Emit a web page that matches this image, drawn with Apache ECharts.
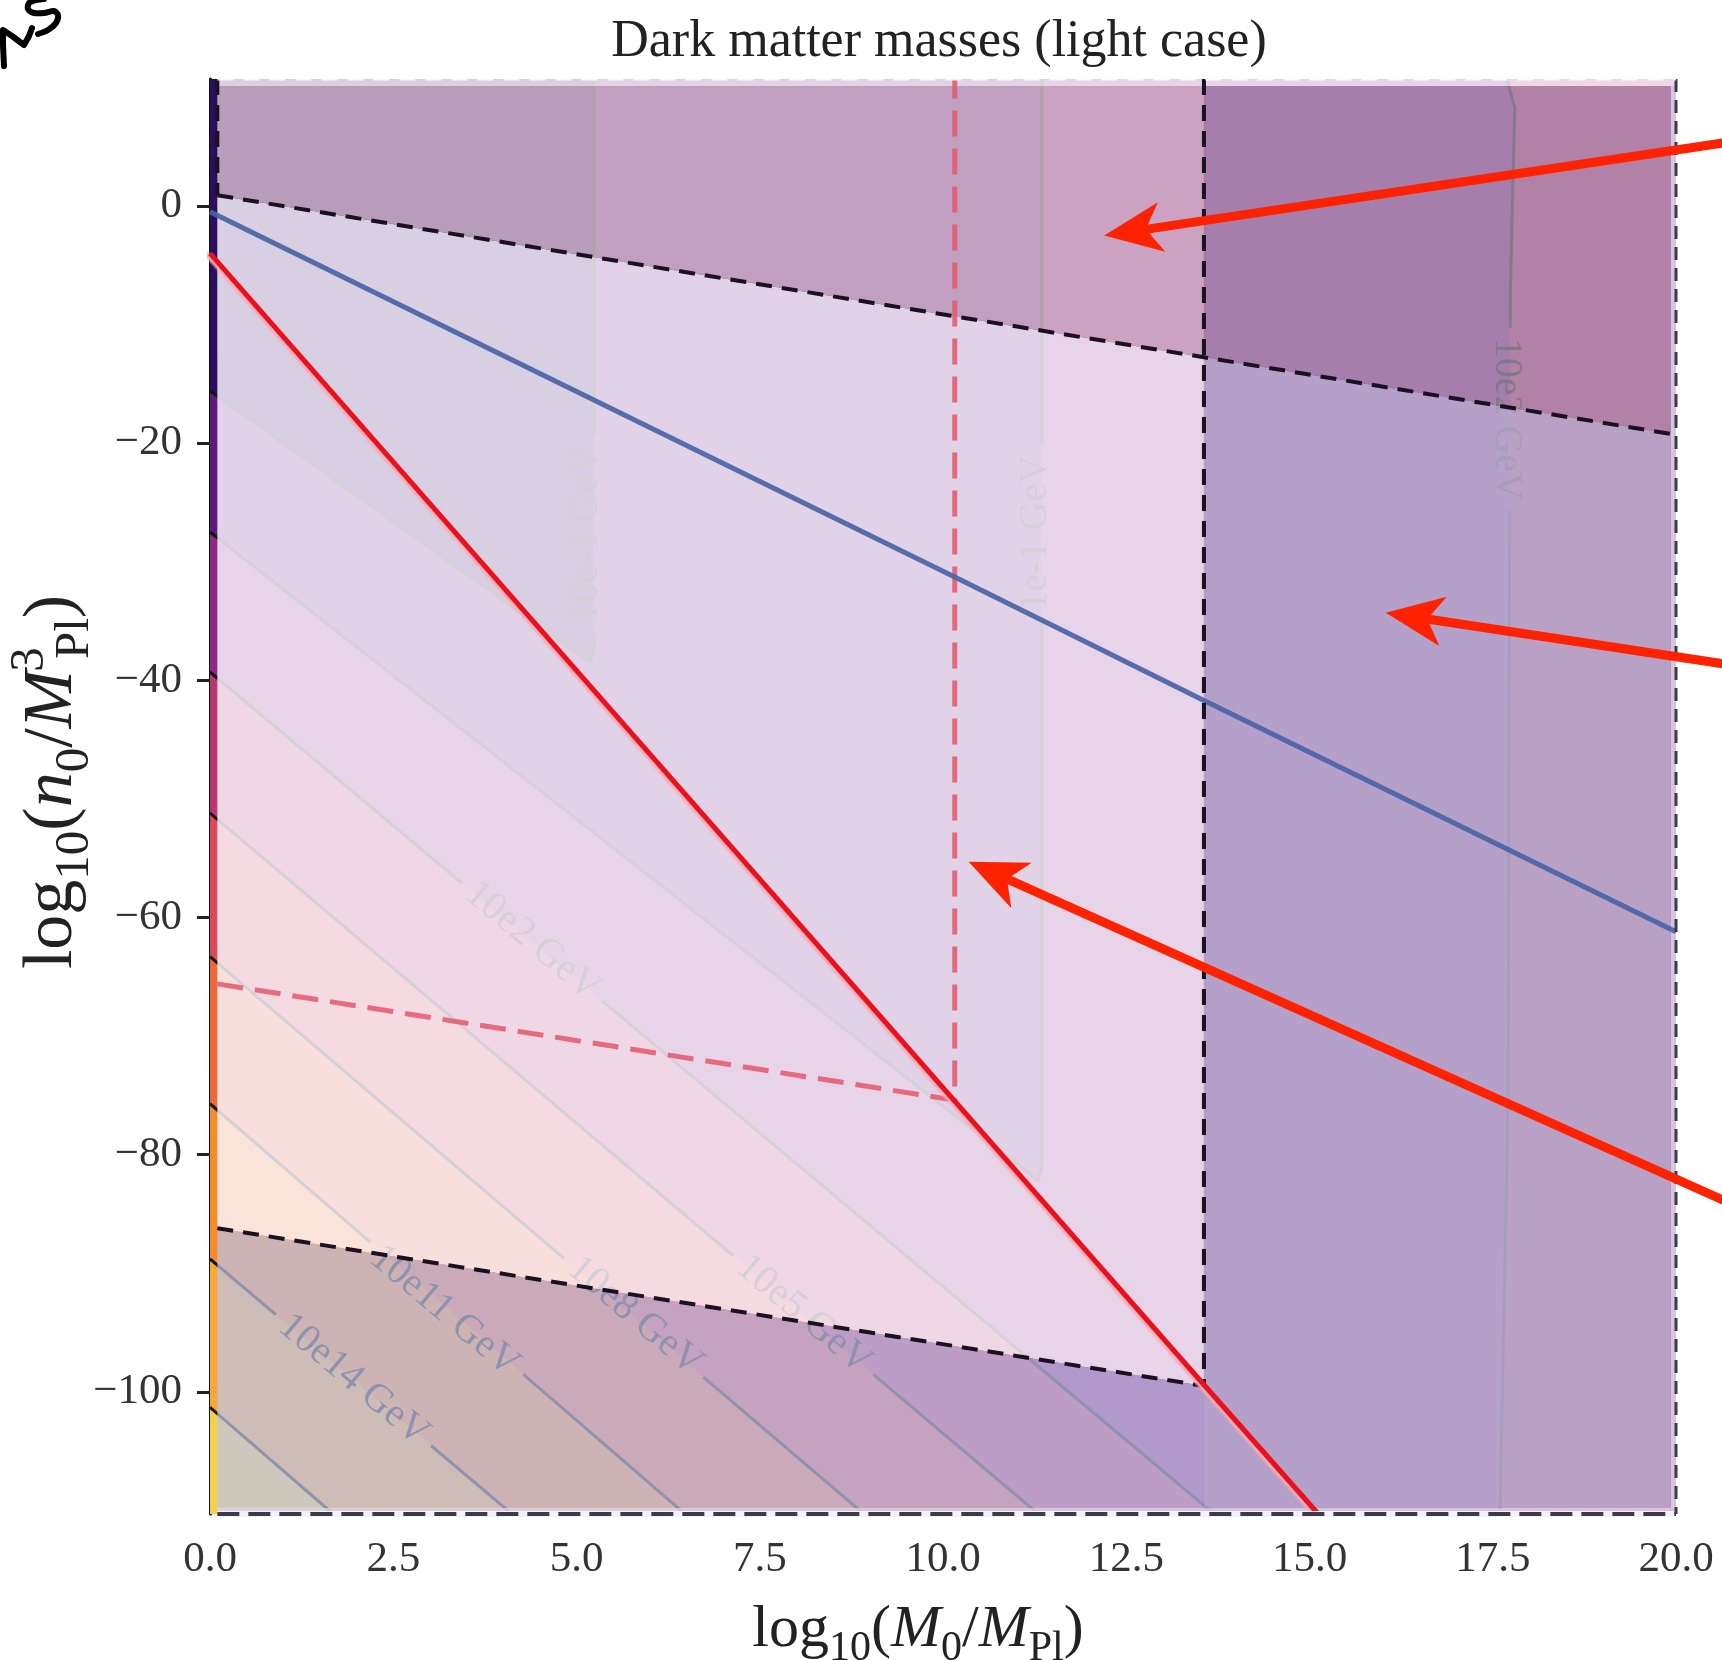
<!DOCTYPE html>
<html>
<head>
<meta charset="utf-8">
<script src="https://cdn.jsdelivr.net/npm/echarts@6/dist/echarts.min.js"></script>
<style>
  html, body { margin: 0; padding: 0; background: #ffffff; }
  #chart { width: 1722px; height: 1660px; }
</style>
</head>
<body>
<div id="chart"></div>
<script>
// ---- axis ranges and ticks ----
const xRange = [0, 20];
const yRange = [-110.3, 10.7];
const xTickValues = [0, 2.5, 5, 7.5, 10, 12.5, 15, 17.5, 20];
const yTickValues = [-100, -80, -60, -40, -20, 0];

// ---- contours of constant dark matter mass, (log10 M0/MPl, log10 n0/MPl^3) ----
const contour1 = [[0, -15.6], [5.18, -38.5], [5.24, -37.5], [5.24, 10.7]];
const contour2 = [[0, -27.5], [11.3, -82.2], [11.35, -81.0], [11.35, 10.7]];
const contour3 = [[0, -39.3], [13.7, -110.3]];
const contour3Right = [[17.6, -110.3], [17.71, -75], [17.74, -7.1], [17.8, 8.3], [17.69, 10.7]];
const contour4 = [[0, -51.2], [11.3, -110.3]];
const contour5 = [[0, -63.3], [8.92, -110.3]];
const contour6 = [[0, -75.7], [6.48, -110.3]];
const contour7 = [[0, -88.8], [4.12, -110.3]];
const contour8 = [[0, -101.3], [1.68, -110.3]];

// filled mass bands, lightest mass (top) to heaviest (bottom left)
const bandColors = ['#2a0f5c', '#5c1b7c', '#8c2981', '#b7376f', '#d84a5c', '#ea6a3c', '#f48a2c', '#f6a936', '#f2d24c'];

// inline contour labels and the contour each one sits on
const contourLabels = ['10e-1 GeV', '1e-1 GeV', '10e2 GeV', '10e2 GeV', '10e5 GeV', '10e8 GeV', '10e11 GeV', '10e14 GeV'];
const contourLabelPos = [[5.14, -27.7], [11.26, -27.6], [17.69, -18], [4.4, -62], [8.1, -93.5], [5.8, -93.6], [3.2, -93.2], [1.96, -99]];
const contourLabelAngle = [90, 90, -90, -40, -40, -40, -40, -40];
const contourLabelLine = [0, 1, 3, 2, 4, 5, 6, 7];

// ---- excluded / allowed regions ----
const upperBound = [[0.1, 0.9], [20, -19.3]];
const lowerBound = [[0.1, -86.2], [13.56, -99.5]];
const massCutX = 13.56;
const stripX = 0.1;
const innerTop = 10.1;
const innerRight = 19.93;
const innerBottom = -109.75;
const fillAllowed = 'rgba(250,245,252,0.84)';
const fillUpperLeft = 'rgba(219,192,210,0.80)';
const fillUpperRight = 'rgba(174,158,187,0.73)';
const fillRight = 'rgba(185,176,210,0.88)';
const fillLower = 'rgba(190,194,230,0.73)';
const fillEdge = 'rgba(214,210,234,0.92)';

// ---- constraint curves ----
const blueCurve = [[0, -0.5], [10.16, -31.3], [13.56, -41.7], [20, -61.2]];
const redCurve = [[0, -4.0], [13.56, -99.4], [15.12, -110.3]];
const redDashed = [[0.1, -65.6], [10.16, -75.4], [10.16, 10.7]];

// ---- annotation arrows (tip, tail) ----
const arrowTips = [[12.2, -2.5], [16.04, -34.3], [10.35, -55.3]];
const arrowTails = [[20.74, 5.4], [20.74, -38.7], [20.74, -84.1]];

const SERIF = '"Liberation Serif", "DejaVu Serif", serif';
const LABEL_FONT = 40;
const yMin = yRange[0], yMax = yRange[1];
const rev = a => a.slice().reverse();
function yAt(line, x) {
  const a = line[0], b = line[1];
  return a[1] + (b[1] - a[1]) * (x - a[0]) / (b[0] - a[0]);
}

const contourLines = [contour1, contour2, contour3, contour3Right, contour4, contour5, contour6, contour7, contour8];

const bandPolys = [
  { pts: [[0, yMax]].concat(rev(contour1)), fill: bandColors[0] },
  { pts: contour1.concat(rev(contour2)), fill: bandColors[1] },
  { pts: contour2.concat(rev(contour3.concat(contour3Right))), fill: bandColors[2] },
  { pts: contour3.concat(rev(contour4)), fill: bandColors[3] },
  { pts: contour3Right.concat([[20, yMax], [20, yMin]]), fill: bandColors[3] },
  { pts: contour4.concat(rev(contour5)), fill: bandColors[4] },
  { pts: contour5.concat(rev(contour6)), fill: bandColors[5] },
  { pts: contour6.concat(rev(contour7)), fill: bandColors[6] },
  { pts: contour7.concat(rev(contour8)), fill: bandColors[7] },
  { pts: contour8.concat([[0, yMin]]), fill: bandColors[8] }
];

const yU0 = yAt(upperBound, stripX), yUc = yAt(upperBound, massCutX), yUr = yAt(upperBound, innerRight);
const yL0 = yAt(lowerBound, stripX), yLc = yAt(lowerBound, massCutX);
const regionPolys = [
  { pts: [[stripX, yU0], [massCutX, yUc], [massCutX, yLc], [stripX, yL0]], fill: fillAllowed },
  { pts: [[stripX, innerTop], [massCutX, innerTop], [massCutX, yUc], [stripX, yU0]], fill: fillUpperLeft },
  { pts: [[massCutX, innerTop], [innerRight, innerTop], [innerRight, yUr], [massCutX, yUc]], fill: fillUpperRight },
  { pts: [[massCutX, yUc], [innerRight, yUr], [innerRight, innerBottom], [massCutX, innerBottom]], fill: fillRight },
  { pts: [[stripX, yL0], [massCutX, yLc], [massCutX, innerBottom], [stripX, innerBottom]], fill: fillLower },
  // thin margins between the shaded regions and the frame
  { pts: [[stripX, yMax], [20, yMax], [20, innerTop], [stripX, innerTop]], fill: fillAllowed },
  { pts: [[innerRight, innerTop], [20, innerTop], [20, yMin], [innerRight, yMin]], fill: fillEdge },
  { pts: [[stripX, innerBottom], [innerRight, innerBottom], [innerRight, yMin], [stripX, yMin]], fill: fillEdge }
];

// text widths, used to open a gap in each contour under its label
const measureCtx = document.createElement('canvas').getContext('2d');
measureCtx.font = LABEL_FONT + 'px ' + SERIF;
const labelHalfWidth = contourLabels.map(t => measureCtx.measureText(t).width / 2 + 10);

// split a pixel polyline, leaving out the arc-length intervals under labels
function cutPolyline(pts, centers, halves) {
  const cum = [0];
  for (let i = 1; i < pts.length; i++) {
    cum.push(cum[i - 1] + Math.hypot(pts[i][0] - pts[i - 1][0], pts[i][1] - pts[i - 1][1]));
  }
  const total = cum[cum.length - 1];
  const gaps = centers.map((c, g) => {
    let best = Infinity, s0 = 0;
    for (let i = 1; i < pts.length; i++) {
      const ax = pts[i - 1][0], ay = pts[i - 1][1], bx = pts[i][0], by = pts[i][1];
      const len2 = (bx - ax) ** 2 + (by - ay) ** 2 || 1;
      let t = ((c[0] - ax) * (bx - ax) + (c[1] - ay) * (by - ay)) / len2;
      t = Math.max(0, Math.min(1, t));
      const d = Math.hypot(ax + t * (bx - ax) - c[0], ay + t * (by - ay) - c[1]);
      if (d < best) { best = d; s0 = cum[i - 1] + t * Math.sqrt(len2); }
    }
    return [s0 - halves[g], s0 + halves[g]];
  }).sort((a, b) => a[0] - b[0]);
  const keep = [];
  let start = 0;
  gaps.forEach(g => { if (g[0] > start) keep.push([start, g[0]]); start = Math.max(start, g[1]); });
  if (start < total) keep.push([start, total]);
  function at(s) {
    for (let i = 1; i < pts.length; i++) {
      if (s <= cum[i] || i === pts.length - 1) {
        const seg = cum[i] - cum[i - 1] || 1;
        const t = Math.max(0, Math.min(1, (s - cum[i - 1]) / seg));
        return [pts[i - 1][0] + t * (pts[i][0] - pts[i - 1][0]), pts[i - 1][1] + t * (pts[i][1] - pts[i - 1][1])];
      }
    }
    return pts[pts.length - 1];
  }
  return keep.map(k => {
    const piece = [at(k[0])];
    for (let i = 1; i < pts.length - 1; i++) if (cum[i] > k[0] && cum[i] < k[1]) piece.push(pts[i]);
    piece.push(at(k[1]));
    return piece;
  });
}

function polygonSeries(list, z, strokeEdges) {
  return {
    type: 'custom', coordinateSystem: 'cartesian2d', z: z, silent: true, clip: true,
    data: list.map((_, i) => [i, 0]),
    renderItem: (params, api) => {
      const item = list[params.dataIndex];
      return {
        type: 'polygon',
        shape: { points: item.pts.map(p => api.coord(p)) },
        style: strokeEdges ? { fill: item.fill, stroke: item.fill, lineWidth: 1 } : { fill: item.fill }
      };
    }
  };
}

function lineSeries(data, z, style, extra) {
  return Object.assign({
    type: 'line', data: data, z: z, silent: true, showSymbol: false, symbol: 'none',
    lineStyle: style
  }, extra || {});
}

const blackDash = { color: '#1a1020', width: 4, type: [16, 10] };

const series = [
  polygonSeries(bandPolys, 1, true),
  {
    // contour lines with gaps for their inline labels
    type: 'custom', coordinateSystem: 'cartesian2d', z: 2, silent: true, clip: true,
    data: contourLines.map((_, i) => [i, 0]),
    renderItem: (params, api) => {
      const li = params.dataIndex;
      const pts = contourLines[li].map(p => api.coord(p));
      const centers = [], halves = [];
      contourLabelLine.forEach((l, k) => {
        if (l === li) { centers.push(api.coord(contourLabelPos[k])); halves.push(labelHalfWidth[k]); }
      });
      const pieces = cutPolyline(pts, centers, halves);
      return {
        type: 'group',
        children: pieces.map(p => ({
          type: 'polyline', shape: { points: p },
          style: { stroke: '#151515', lineWidth: 3, fill: null, lineJoin: 'round' }
        }))
      };
    }
  },
  {
    type: 'custom', coordinateSystem: 'cartesian2d', z: 3, silent: true, clip: true,
    data: contourLabels.map((_, i) => [i, 0]),
    renderItem: (params, api) => {
      const i = params.dataIndex;
      const p = api.coord(contourLabelPos[i]);
      return {
        type: 'text', x: p[0], y: p[1],
        rotation: contourLabelAngle[i] * Math.PI / 180,
        style: {
          text: contourLabels[i], fontFamily: SERIF, fontSize: LABEL_FONT, fill: '#111',
          align: 'center', verticalAlign: 'middle'
        }
      };
    }
  },
  polygonSeries(regionPolys, 4, false),
  lineSeries(redDashed, 5, { color: '#e4576c', width: 5, type: [26, 12], opacity: 0.85 }),
  lineSeries(blueCurve, 5, { color: '#4a63a6', width: 5, opacity: 0.92 }),
  lineSeries(upperBound, 6, blackDash),
  lineSeries(lowerBound, 6, blackDash),
  lineSeries([[massCutX, yMax], [massCutX, lowerBound[1][1]]], 6, blackDash),
  lineSeries([[stripX, yMax], upperBound[0]], 6, blackDash),
  lineSeries(redCurve, 7, { color: '#e8121f', width: 5, shadowColor: 'rgba(255,170,180,0.95)', shadowBlur: 2, shadowOffsetX: -4 }),
  // plot frame: dashed edges of the shaded regions
  lineSeries([[stripX, yMin], [20, yMin]], 8, { color: '#f4f2f8', width: 6 }, { clip: false }),
  lineSeries([[stripX, yMin], [20, yMin]], 9, { color: '#3c3a48', width: 4, type: [22, 9] }, { clip: false }),
  lineSeries([[20, yMax], [20, yMin]], 9, { color: '#3c3a48', width: 3, type: [13, 8] }, { clip: false }),
  lineSeries([[stripX, yMax], [20, yMax]], 9, { color: 'rgba(255,255,255,0.85)', width: 3, type: [16, 10] }, { clip: false })
];

const option = {
  animation: false,
  backgroundColor: '#ffffff',
  grid: { left: 210, right: 46, top: 79, bottom: 146, containLabel: false },
  xAxis: {
    type: 'value', min: xRange[0], max: xRange[1], interval: 2.5,
    axisLine: { show: false },
    axisTick: { show: true, length: 10, lineStyle: { color: '#222', width: 2 } },
    axisLabel: {
      formatter: v => v.toFixed(1), fontFamily: SERIF, fontSize: 43, color: '#333', margin: 24,
      customValues: xTickValues
    },
    splitLine: { show: false }
  },
  yAxis: {
    type: 'value', min: yRange[0], max: yRange[1],
    axisLine: { show: true, onZero: false, lineStyle: { color: '#111', width: 3 } },
    axisTick: { show: true, length: 13, customValues: yTickValues, lineStyle: { color: '#222', width: 3 } },
    axisLabel: {
      customValues: yTickValues,
      formatter: v => (v < 0 ? '\u2212' + Math.abs(v) : String(v)),
      fontFamily: SERIF, fontSize: 43, color: '#333', margin: 28
    },
    splitLine: { show: false }
  },
  series: series
};

const chart = echarts.init(document.getElementById('chart'), null, { renderer: 'canvas' });
chart.setOption(option);

// ---- titles, axis names, hand-drawn annotations ----
function mathRich(size) {
  const sub = Math.round(size * 0.7);
  return {
    a: { fontFamily: SERIF, fontSize: size, lineHeight: size * 1.34, fill: '#222' },
    i: { fontFamily: SERIF, fontSize: size, lineHeight: size * 1.34, fontStyle: 'italic', fill: '#222' },
    s: { fontFamily: SERIF, fontSize: sub, lineHeight: sub, verticalAlign: 'bottom', fill: '#222' },
    p: { fontFamily: SERIF, fontSize: sub, lineHeight: sub, verticalAlign: 'top', width: 1, align: 'left',
         padding: [0, 0, 0, Math.round(size * 0.14)], fill: '#222' }
  };
}

function arrowElements(tipData, tailData) {
  const tip = chart.convertToPixel({ gridIndex: 0 }, tipData);
  const tail = chart.convertToPixel({ gridIndex: 0 }, tailData);
  const dx = tip[0] - tail[0], dy = tip[1] - tail[1];
  const len = Math.hypot(dx, dy);
  const ux = dx / len, uy = dy / len, nx = -uy, ny = ux;
  const headLen = 58, halfW = 25, notch = 16;
  const bx = tip[0] - ux * headLen, by = tip[1] - uy * headLen;
  const kx = tip[0] - ux * (headLen - notch), ky = tip[1] - uy * (headLen - notch);
  return [
    { type: 'line', z: 100, shape: { x1: tail[0], y1: tail[1], x2: kx, y2: ky },
      style: { stroke: '#ff2200', lineWidth: 9, lineCap: 'round' } },
    { type: 'polygon', z: 100,
      shape: { points: [tip, [bx + nx * halfW, by + ny * halfW], [kx, ky], [bx - nx * halfW, by - ny * halfW]] },
      style: { fill: '#ff2200' } }
  ];
}

const inkStyle = { stroke: '#000', lineWidth: 6, fill: null, lineCap: 'round', lineJoin: 'round' };
let graphics = [
  { type: 'text', z: 100, x: 939, y: 42,
    style: { text: 'Dark matter masses (light case)', fontFamily: SERIF, fontSize: 52, fill: '#222',
             align: 'center', verticalAlign: 'middle' } },
  { type: 'text', z: 100, x: 918, y: 1630,
    style: { text: '{a|log}{s|10}{a|(}{i|M}{s|0}{a|/}{i|M}{s|Pl}{a|)}', rich: mathRich(60),
             align: 'center', verticalAlign: 'middle' } },
  { type: 'text', z: 100, x: 53, y: 782, rotation: Math.PI / 2,
    style: { text: '{a|log}{s|10}{a|(}{i|n}{s|0}{a|/}{i|M}{p|3}{s|Pl}{a|)}', rich: mathRich(70),
             align: 'center', verticalAlign: 'middle' } },
  { type: 'polyline', z: 100, shape: { points: [[4, 66], [3, 45], [3, 30], [12, 36], [24, 45], [29, 36], [32, 28]] },
    style: inkStyle },
  { type: 'polyline', z: 100, shape: { points: [[38, 34], [48, 30], [56, 23], [58, 15], [54, 11], [44, 13], [34, 13], [28, 9], [29, 3], [36, 0], [44, -1]], smooth: 0.3 },
    style: inkStyle }
];
arrowTips.forEach((t, i) => { graphics = graphics.concat(arrowElements(t, arrowTails[i])); });
chart.setOption({ graphic: graphics });
</script>
</body>
</html>
